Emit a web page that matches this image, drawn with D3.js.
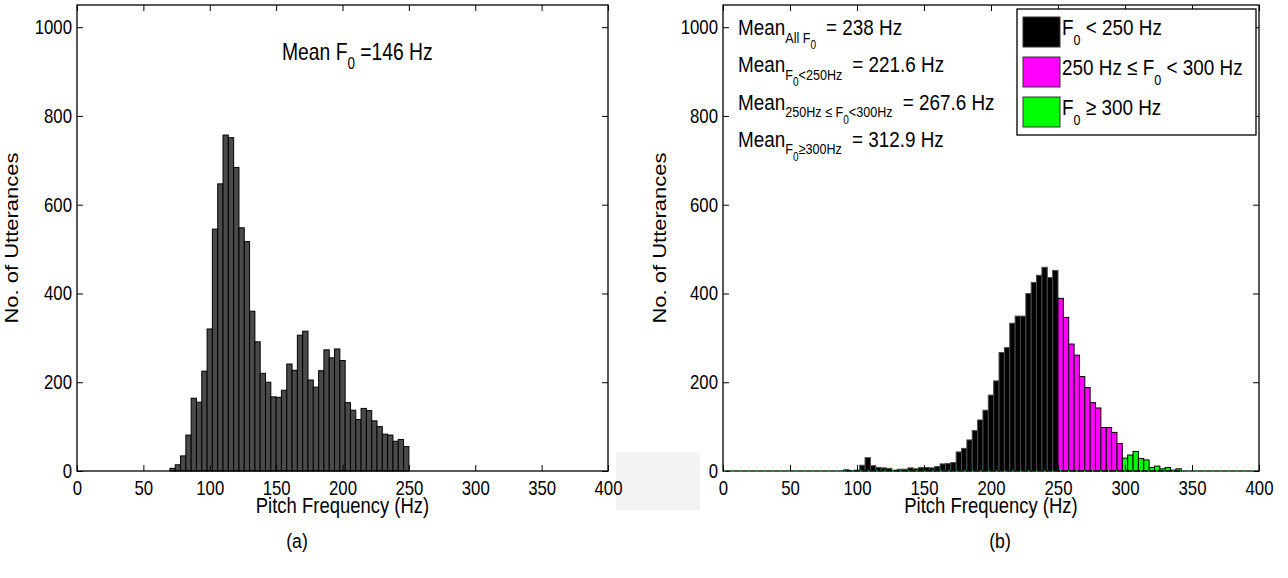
<!DOCTYPE html>
<html>
<head>
<meta charset="utf-8">
<script src="https://cdn.jsdelivr.net/npm/d3@7"></script>
<style>
body { margin: 0; background: #fff; }
text { font-family: "Liberation Sans", Arial, sans-serif; fill: #000; }
</style>
</head>
<body>
<div id="chart"></div>
<script>
// Histogram data, 4 Hz bins
var binWidth = 4;

// (a) all utterances
var startA = 70;
var countsA = [6, 14, 34, 81, 164, 155, 225, 320, 545, 647, 757, 751, 684, 548, 517,
    360, 291, 220, 200, 167, 166, 182, 241, 227, 306, 315, 205, 189, 226, 273,
    255, 275, 249, 154, 137, 116, 141, 136, 113, 100, 83, 81, 67, 71, 55];

// (b) split by pitch range
var startBlack = 90;
var countsBlack = [3, 1, 2, 13, 30, 12, 8, 7, 6, 2, 4, 4, 7, 5, 8, 8, 7, 10, 16, 17,
    19, 43, 51, 70, 91, 115, 137, 171, 203, 267, 278, 333, 349, 349, 400, 425, 441, 459, 436, 452];
var startMagenta = 250;
var countsMagenta = [389, 346, 286, 261, 213, 188, 154, 142, 98, 98, 87, 62];
var startGreen = 298;
var countsGreen = [29, 36, 44, 28, 25, 8, 11, 5, 8, 2, 5];

var xTicks = [0, 50, 100, 150, 200, 250, 300, 350, 400];
var yTicks = [0, 200, 400, 600, 800, 1000];

var legendLabels = [
    [['F', 0], ['0', 1], [' < 250 Hz', 0]],
    [['250 Hz \u2264 F', 0], ['0', 1], [' < 300 Hz', 0]],
    [['F', 0], ['0', 1], [' \u2265 300 Hz', 0]]
];
var legendColors = ['#000000', '#ff00ff', '#00ff00'];

var meanTextA = [['Mean F', 0], ['0', 1], [' =146 Hz', 0]];
var meanTextB = [
    [['Mean', 0], ['All F', 1], ['0', 2], ['= 238 Hz', 0, 10]],
    [['Mean', 0], ['F', 1], ['0', 2], ['<250Hz', 1], ['= 221.6 Hz', 0, 10]],
    [['Mean', 0], ['250Hz \u2264 F', 1], ['0', 2], ['<300Hz', 1], ['= 267.6 Hz', 0, 10]],
    [['Mean', 0], ['F', 1], ['0', 2], ['\u2265300Hz', 1], ['= 312.9 Hz', 0, 10]]
];

var W = 1288, H = 578;
var squeeze = 0.84;
var plotTop = 5, plotBottom = 471;

var svg = d3.select('#chart').append('svg')
    .attr('width', W)
    .attr('height', H)
;

// faint watermark patch between the panels
svg.append('rect')
    .attr('x', 616).attr('y', 452)
    .attr('width', 84).attr('height', 58)
    .attr('fill', '#f3f3f3');

var y = d3.scaleLinear().domain([0, 1050]).range([plotBottom, plotTop]);

// text with sub/subsub levels
function richText(sel, x, yy, pieces, sizes, shifts, anchor) {
    var t = sel.append('text')
        .attr('transform', 'translate(' + x + ',' + yy + ') scale(' + squeeze + ',1)')
        .attr('text-anchor', anchor || 'start')
        .attr('font-size', sizes[0]);
    var level = 0;
    pieces.forEach(function (p) {
        var lv = p[1];
        t.append('tspan')
            .attr('dy', shifts[lv] - shifts[level])
            .attr('dx', p[2] ? p[2] / squeeze : null)
            .attr('font-size', sizes[lv])
            .text(p[0]);
        level = lv;
    });
    return t;
}

function panel(x0, x1, bars, label, caption, ylabX) {
    var x = d3.scaleLinear().domain([0, 400]).range([x0, x1]);
    var g = svg.append('g');

    g.append('rect')
        .attr('x', x0).attr('y', plotTop)
        .attr('width', x1 - x0).attr('height', plotBottom - plotTop)
        .attr('fill', '#fff');

    g.selectAll('rect.bar')
        .data(bars)
        .enter()
        .append('rect')
        .attr('class', 'bar')
        .attr('x', function (d) { return x(d.hz); })
        .attr('y', function (d) { return y(d.v); })
        .attr('width', function (d) { return x(d.hz + binWidth) - x(d.hz); })
        .attr('height', function (d) { return y(0) - y(d.v); })
        .attr('fill', function (d) { return d.c; })
        .attr('stroke', function (d) { return d.s; })
        .attr('stroke-width', 1)
    ;

    // axes with ticks pointing inwards
    var fmt = d3.format('d');
    var bx = g.append('g').attr('transform', 'translate(0,' + plotBottom + ')')
        .call(d3.axisBottom(x).tickValues(xTicks).tickFormat(fmt).tickSizeInner(-6).tickSizeOuter(0).tickPadding(10));
    var lx = g.append('g').attr('transform', 'translate(' + x0 + ',0)')
        .call(d3.axisLeft(y).tickValues(yTicks).tickFormat(fmt).tickSizeInner(-6).tickSizeOuter(0));
    g.append('g').attr('transform', 'translate(0,' + plotTop + ')')
        .call(d3.axisTop(x).tickValues(xTicks).tickSizeInner(-6).tickSizeOuter(0).tickFormat(''));
    g.append('g').attr('transform', 'translate(' + x1 + ',0)')
        .call(d3.axisRight(y).tickValues(yTicks).tickSizeInner(-6).tickSizeOuter(0).tickFormat(''));

    g.selectAll('.domain').remove();
    g.selectAll('.tick line').attr('stroke', '#000');
    g.selectAll('.tick text')
        .attr('font-family', '"Liberation Sans", Arial, sans-serif')
        .attr('font-size', 20)
        .attr('fill', '#000');
    bx.selectAll('.tick text').attr('transform', 'scale(' + squeeze + ',1)');
    lx.selectAll('.tick text')
        .attr('x', 0)
        .attr('transform', 'translate(-5,0) scale(' + squeeze + ',1)');

    g.append('rect')
        .attr('x', x0).attr('y', plotTop)
        .attr('width', x1 - x0).attr('height', plotBottom - plotTop)
        .attr('fill', 'none')
        .attr('stroke', '#000')
        .attr('stroke-width', 1.3);

    g.append('text')
        .attr('transform', 'translate(' + ((x0 + x1) / 2) + ',513) scale(' + squeeze + ',1)')
        .attr('text-anchor', 'middle')
        .attr('font-size', 22)
        .text('Pitch Frequency (Hz)');

    g.append('text')
        .attr('transform', 'translate(' + ylabX + ',' + ((plotTop + plotBottom) / 2) + ') scale(' + squeeze + ',1) rotate(-90)')
        .attr('text-anchor', 'middle')
        .attr('font-size', 22)
        .text('No. of Utterances');

    g.append('text')
        .attr('transform', 'translate(' + caption + ',548) scale(' + squeeze + ',1)')
        .attr('text-anchor', 'middle')
        .attr('font-family', '"Liberation Serif", "DejaVu Serif", serif')
        .attr('font-size', 21)
        .text(label);

    return x;
}

// (a)
var barsA = countsA.map(function (v, i) {
    return { hz: startA + i * binWidth, v: v, c: '#4a4a4a', s: '#000' };
});
panel(77, 608, barsA, '(a)', 297, 18);
richText(svg, 282, 60, meanTextA, [23, 16], [0, 9]);

// (b)
function toBars(start, counts, c, s) {
    return counts.map(function (v, i) {
        return { hz: start + i * binWidth, v: v, c: c, s: s };
    });
}
var barsB = toBars(startBlack, countsBlack, '#000', '#4a4a4a')
    .concat(toBars(startMagenta, countsMagenta, '#ff00ff', '#000'))
    .concat(toBars(startGreen, countsGreen, '#00ff00', '#000'));
var xB = panel(723, 1259, barsB, '(b)', 1000, 666);

// green dotted baseline of empty bins
svg.append('line')
    .attr('x1', 724).attr('x2', 1258)
    .attr('y1', plotBottom).attr('y2', plotBottom)
    .attr('stroke', '#00cc00')
    .attr('stroke-width', 1.3)
    .attr('stroke-dasharray', '1.5,6.5');

meanTextB.forEach(function (line, i) {
    richText(svg, 738, 35 + i * 37.3, line, [22.5, 15, 12], [0, 7.5, 14]);
});

// legend
var lg = svg.append('g');
lg.append('rect')
    .attr('x', 1017).attr('y', 9)
    .attr('width', 239).attr('height', 126)
    .attr('fill', '#fff')
    .attr('stroke', '#000')
    .attr('stroke-width', 1.3);
lg.selectAll('rect.sw')
    .data(legendColors)
    .enter()
    .append('rect')
    .attr('class', 'sw')
    .attr('x', 1023)
    .attr('y', function (d, i) { return 17 + i * 40; })
    .attr('width', 37)
    .attr('height', 30)
    .attr('fill', function (d) { return d; })
    .attr('stroke', '#333');
legendLabels.forEach(function (l, i) {
    richText(lg, 1062, 35 + i * 40, l, [22.5, 15], [0, 10]);
});
</script>
</body>
</html>
